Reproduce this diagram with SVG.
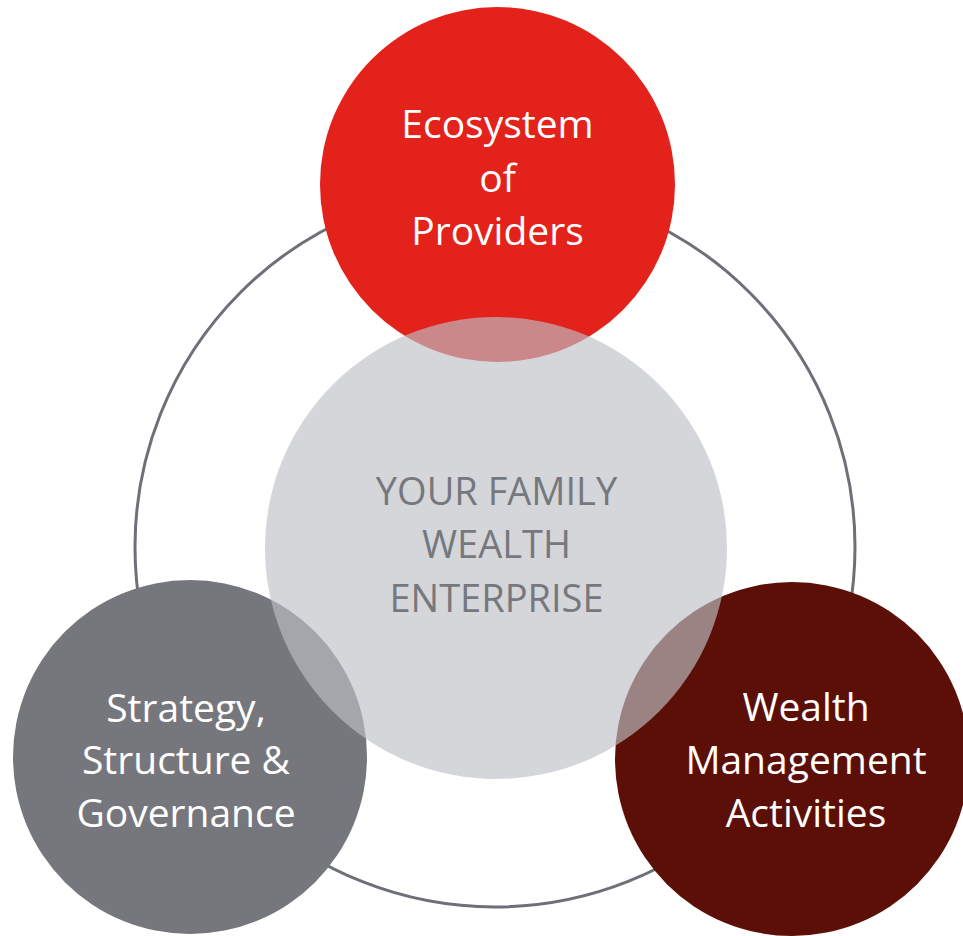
<svg xmlns="http://www.w3.org/2000/svg" width="963" height="936" viewBox="0 0 963 936">
  <style>
    .lbl { font-family: "Open Sans", "Noto Sans", "Liberation Sans", sans-serif; font-size: 39px; text-anchor: middle; }
    .light { fill: #ffffff; }
    .core { fill: #76787d; font-size: 38px; }
  </style>
  <rect width="963" height="936" fill="#ffffff"/>

  <!-- ring linking the three outer circles -->
  <g id="connectors">
    <circle cx="495" cy="547" r="360" fill="none" stroke="#6d7076" stroke-width="3"/>
  </g>

  <g id="ecosystem">
    <circle cx="497.5" cy="184.5" r="177.5" fill="#e3221c"/>
    <text class="lbl light" x="497.5" y="138">Ecosystem</text>
    <text class="lbl light" x="497.5" y="192">of</text>
    <text class="lbl light" x="497.5" y="245">Providers</text>
  </g>

  <g id="strategy">
    <circle cx="190" cy="757" r="177" fill="#76777c"/>
    <text class="lbl light" x="186" y="722">Strategy,</text>
    <text class="lbl light" x="186" y="774">Structure &amp;</text>
    <text class="lbl light" x="186" y="827">Governance</text>
  </g>

  <g id="activities">
    <circle cx="792" cy="759" r="177" fill="#5c0f07"/>
    <text class="lbl light" x="806" y="721">Wealth</text>
    <text class="lbl light" x="806" y="774">Management</text>
    <text class="lbl light" x="806" y="827">Activities</text>
  </g>

  <!-- translucent core drawn over the outer circles -->
  <g id="enterprise">
    <circle cx="496" cy="548" r="231" fill="#bdc0c6" fill-opacity="0.65"/>
    <text class="lbl core" x="496.5" y="505">YOUR FAMILY</text>
    <text class="lbl core" x="496.5" y="558">WEALTH</text>
    <text class="lbl core" x="496.5" y="612">ENTERPRISE</text>
  </g>
</svg>
